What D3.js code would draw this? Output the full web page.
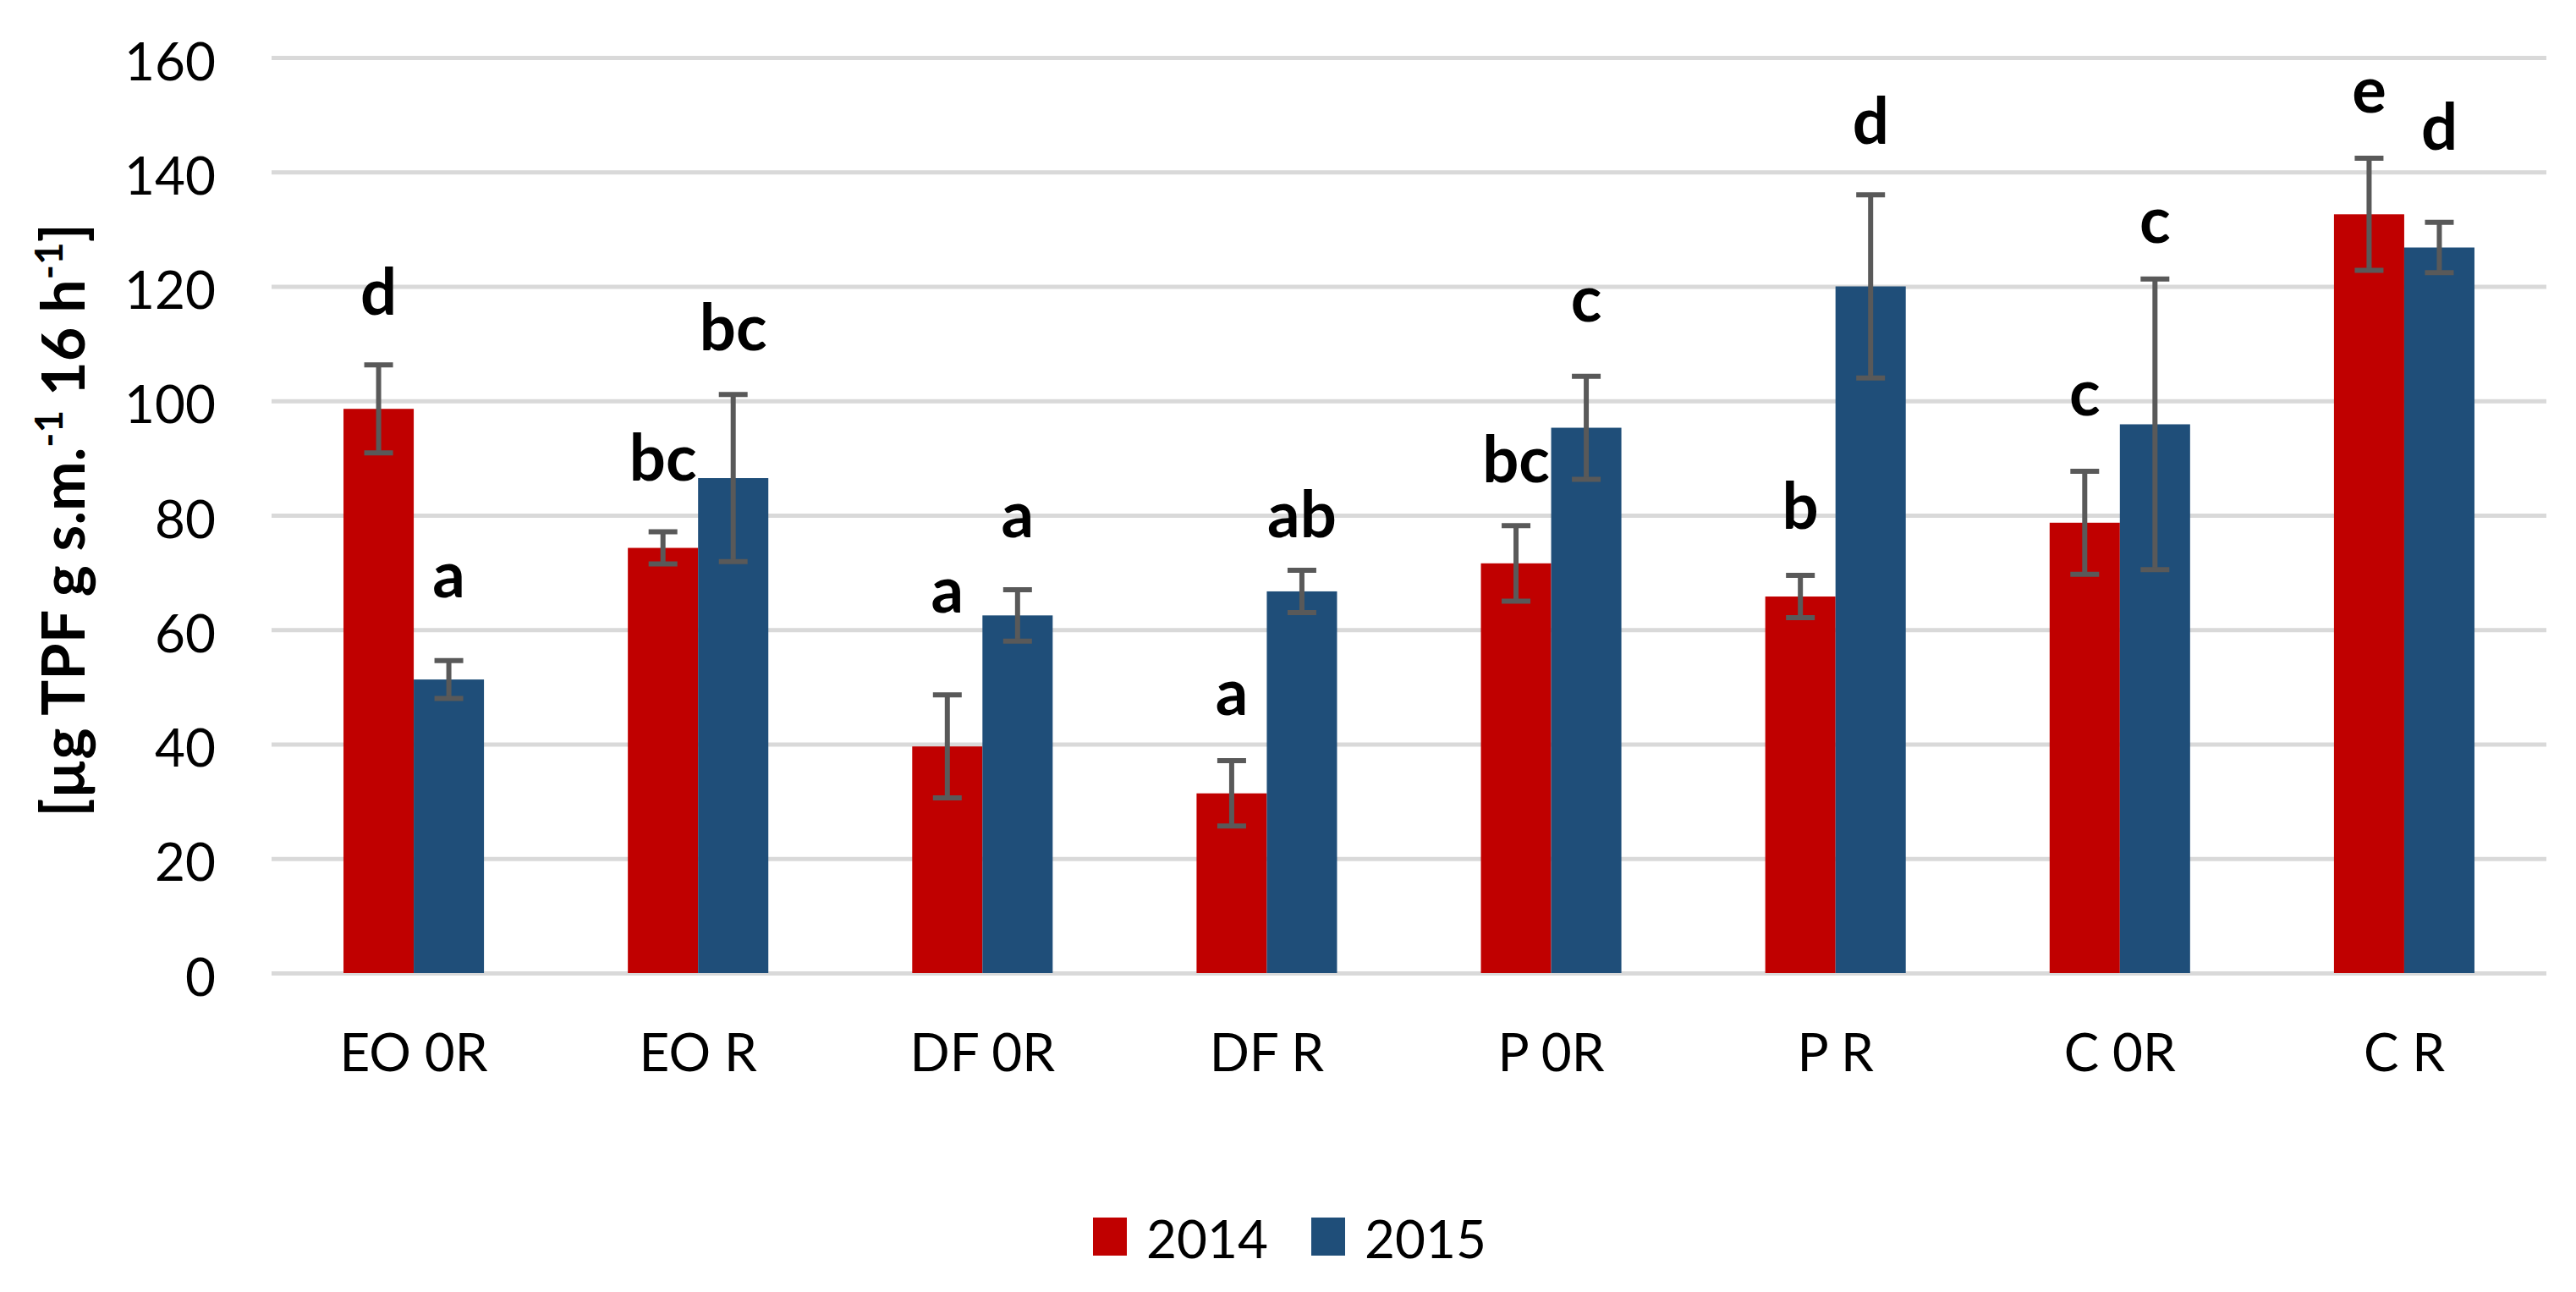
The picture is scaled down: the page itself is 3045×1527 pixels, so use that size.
<!DOCTYPE html>
<html>
<head>
<meta charset="utf-8">
<script src="https://cdn.jsdelivr.net/npm/d3@7"></script>
<style>
  body { margin: 0; background: #fff; }
  svg { display: block; font-family: Lato, "Open Sans", sans-serif; }
</style>
</head>
<body>
<svg class="chart" width="3045" height="1527"></svg>
<script>
    var categories = ["EO 0R", "EO R", "DF 0R", "DF R", "P 0R", "P R", "C 0R", "C R"];
    var series = ["2014", "2015"];
    var values2014 = [98.6, 74.3, 39.6, 31.4, 71.6, 65.8, 78.7, 132.6];
    var errors2014 = [7.7, 2.8, 9.0, 5.7, 6.6, 3.7, 9.0, 9.8];
    var values2015 = [51.3, 86.5, 62.5, 66.7, 95.3, 120.0, 95.9, 126.8];
    var errors2015 = [3.3, 14.6, 4.5, 3.7, 9.0, 16.0, 25.4, 4.4];
    // significance letters and the level (in axis units) where each one sits
    var letters2014 = ["d", "bc", "a", "a", "bc", "b", "c", "e"];
    var letters2015 = ["a", "bc", "a", "ab", "c", "d", "c", "d"];
    var letterAt2014 = [115.1, 86.0, 63.0, 45.1, 85.7, 77.7, 97.4, 150.4];
    var letterAt2015 = [65.6, 108.8, 76.1, 76.1, 113.8, 144.9, 127.6, 143.9];
    var yTicks = [0, 20, 40, 60, 80, 100, 120, 140, 160];

    var colors = { "2014": "#c00000", "2015": "#1f4e79" };

    // note: "top" is taken by window.top, so plot* names
    var plotLeft = 321, plotRight = 3010, plotTop = 68, plotBottom = 1150;
    var svg = d3.select(".chart");

    var x0 = d3.scaleBand().domain(categories).range([plotLeft, plotRight]).padding(0);
    var groupWidth = x0.bandwidth() * 0.494;
    var x1 = d3.scaleBand().domain(series).range([-groupWidth / 2, groupWidth / 2]);

    var y = d3.scaleLinear().domain([0, 160]).range([plotBottom, plotTop]);

    // gridlines + tick labels
    var yAxis = svg.append("g")
        .attr("transform", "translate(" + plotLeft + ",0)")
        .call(d3.axisLeft(y).tickValues(yTicks).tickSize(-(plotRight - plotLeft)).tickPadding(66));
    yAxis.select(".domain").remove();
    yAxis.selectAll(".tick line").attr("stroke", "#d9d9d9").attr("stroke-width", 5);
    yAxis.selectAll(".tick text")
        .attr("font-size", 62)
        .attr("font-family", "Lato")
        .attr("fill", "#000")
        .attr("dy", 26);

    var xAxis = svg.append("g")
        .attr("transform", "translate(0," + plotBottom + ")")
        .call(d3.axisBottom(x0).tickSize(0).tickPadding(0));
    xAxis.select(".domain").remove();
    xAxis.selectAll(".tick text")
        .attr("font-size", 62)
        .attr("font-family", "Lato")
        .attr("fill", "#000")
        .attr("y", 116)
        .attr("dy", 0);

    var rows = categories.map(function (c, i) {
        return [
            { cat: c, s: "2014", v: values2014[i], e: errors2014[i], l: letters2014[i], la: letterAt2014[i] },
            { cat: c, s: "2015", v: values2015[i], e: errors2015[i], l: letters2015[i], la: letterAt2015[i] }
        ];
    });
    var flat = d3.merge(rows);

    function barX(d) {
        return x0(d.cat) + x0.bandwidth() / 2 + x1(d.s);
    }
    function barMid(d) {
        return barX(d) + x1.bandwidth() / 2;
    }

    svg.append("g").selectAll("rect")
        .data(flat)
        .enter()
        .append("rect")
        .attr("x", barX)
        .attr("y", function (d) { return y(d.v); })
        .attr("width", x1.bandwidth())
        .attr("height", function (d) { return y(0) - y(d.v); })
        .attr("fill", function (d) { return colors[d.s]; });

    // error bars
    var capHalf = 17;
    var err = svg.append("g").attr("stroke", "#595959").attr("stroke-width", 6);
    flat.forEach(function (d) {
        var cx = barMid(d);
        err.append("line")
            .attr("x1", cx).attr("x2", cx)
            .attr("y1", y(d.v + d.e)).attr("y2", y(d.v - d.e));
        err.append("line")
            .attr("x1", cx - capHalf).attr("x2", cx + capHalf)
            .attr("y1", y(d.v + d.e)).attr("y2", y(d.v + d.e));
        err.append("line")
            .attr("x1", cx - capHalf).attr("x2", cx + capHalf)
            .attr("y1", y(d.v - d.e)).attr("y2", y(d.v - d.e));
    });

    // letters
    svg.append("g").selectAll("text")
        .data(flat)
        .enter()
        .append("text")
        .attr("x", barMid)
        .attr("y", function (d) { return y(d.la); })
        .attr("text-anchor", "middle")
        .attr("font-size", 76)
        .attr("font-weight", "bold")
        .attr("font-family", "Lato")
        .text(function (d) { return d.l; });

    // y axis title
    var title = svg.append("text")
        .attr("transform", "translate(100,615) rotate(-90)")
        .attr("text-anchor", "middle")
        .attr("font-size", 70)
        .attr("font-weight", "bold")
        .attr("font-family", "Lato");
    title.append("tspan").text("[µg TPF g s.m.");
    title.append("tspan").attr("font-size", 46).attr("dy", -26).text("-1");
    title.append("tspan").attr("dy", 26).text(" 16 h");
    title.append("tspan").attr("font-size", 46).attr("dy", -26).text("-1");
    title.append("tspan").attr("dy", 26).text("]");

    // legend
    var legend = svg.append("g");
    var legendX = [1292, 1550];
    series.forEach(function (s, i) {
        legend.append("rect")
            .attr("x", legendX[i]).attr("y", 1439)
            .attr("width", 40).attr("height", 45)
            .attr("fill", colors[s]);
        legend.append("text")
            .attr("x", legendX[i] + 63).attr("y", 1487)
            .attr("font-size", 62)
            .attr("font-family", "Lato")
            .text(s);
    });
</script>
</body>
</html>
